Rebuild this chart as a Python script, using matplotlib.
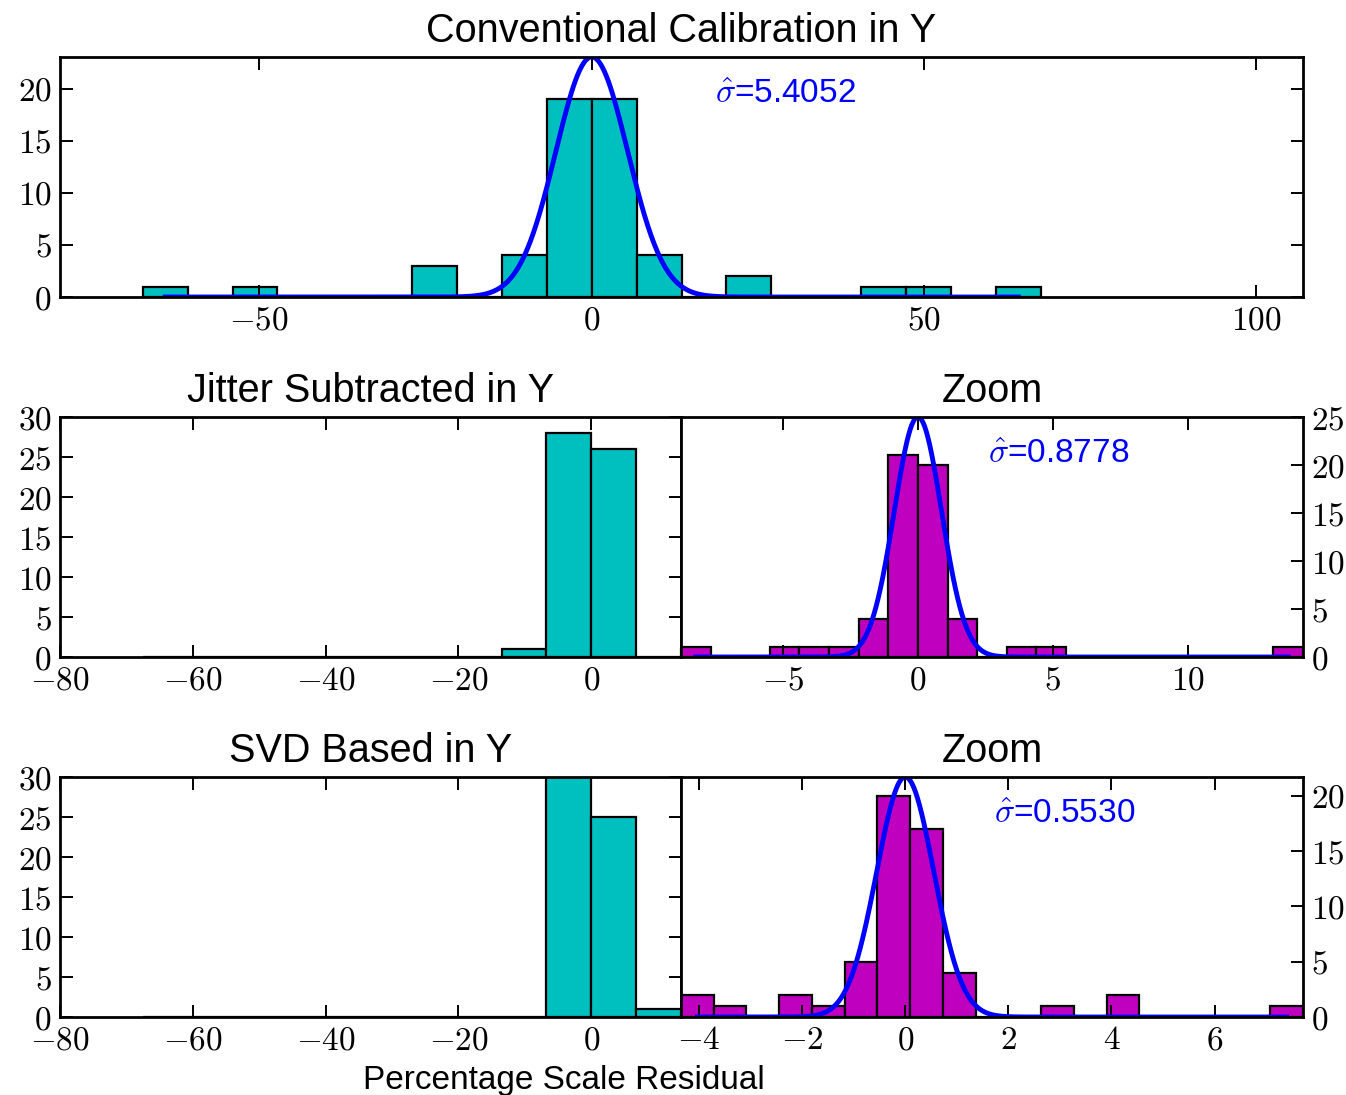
import numpy as np
import matplotlib.pyplot as plt
from matplotlib.ticker import MultipleLocator, FuncFormatter

plt.rcParams['mathtext.fontset'] = 'cm'
plt.rcParams['font.family'] = ['Liberation Sans', 'DejaVu Sans']

# Histogram bins shared by the three wide-range panels
conv_edges = np.linspace(-67.55, 67.55, 21)
conv_counts = [1, 0, 1, 0, 0, 0, 3, 0, 4, 19, 19, 4, 0, 2, 0, 0, 1, 1, 0, 1]
jitter_counts = [0, 0, 0, 0, 0, 0, 0, 0, 1, 28, 26, 0, 1, 0, 0, 0, 0, 0, 0, 0]
svd_counts = [0, 0, 0, 0, 0, 0, 0, 0, 0, 30, 25, 1, 0, 0, 0, 0, 0, 0, 0, 0]

# Zoomed histograms
jitter_zoom_edges = np.linspace(-8.78, 14.27, 22)
jitter_zoom_counts = [1, 0, 0, 1, 1, 1, 4, 21, 20, 4, 0, 1, 1, 0, 0, 0, 0, 0, 0, 0, 1]
svd_zoom_edges = np.linspace(-4.35, 7.715, 20)
svd_zoom_counts = [2, 1, 0, 2, 1, 5, 20, 17, 4, 0, 0, 1, 0, 2, 0, 0, 0, 0, 1]

# Gaussian fits: width and peak height
sigma_conv, amp_conv = 5.4052, 23.06
sigma_jitter, amp_jitter = 0.8778, 25.0
sigma_svd, amp_svd = 0.5530, 21.7

W, H = 1346, 1095
fig = plt.figure(figsize=(W / 100, H / 100), dpi=100)


def add_axes_px(x0, x1, y0, y1):
    return fig.add_axes([x0 / W, 1 - y1 / H, (x1 - x0) / W, (y1 - y0) / H])


def style(ax, xstep, ystep, right=False):
    for sp in ax.spines.values():
        sp.set_linewidth(2.0)
    ax.xaxis.set_major_locator(MultipleLocator(xstep))
    ax.yaxis.set_major_locator(MultipleLocator(ystep))
    fmt = FuncFormatter(lambda v, pos: r'$%g$' % v)
    ax.xaxis.set_major_formatter(fmt)
    ax.yaxis.set_major_formatter(fmt)
    ax.tick_params(direction='in', length=9, width=1.4, labelsize=24,
                   pad=6, top=True, bottom=True)
    if right:
        ax.tick_params(axis='y', left=False, right=True,
                       labelleft=False, labelright=True)
    else:
        ax.tick_params(axis='y', left=True, right=True)


def draw_hist(ax, edges, counts, color):
    ax.bar(edges[:-1], counts, width=np.diff(edges), align='edge',
           color=color, edgecolor='k', linewidth=1.6)


def draw_fit(ax, edges, amp, sigma, fx):
    centers = 0.5 * (edges[1:] + edges[:-1])
    xs = np.linspace(centers[0], centers[-1], 800)
    ax.plot(xs, amp * np.exp(-0.5 * (xs / sigma) ** 2), color='b', lw=3.5)
    ax.text(fx, 0.81, r'$\hat{\sigma}$=%.4f' % sigma, transform=ax.transAxes,
            color='b', fontsize=24, ha='left', va='baseline')


# Conventional calibration
ax = add_axes_px(60, 1303, 57, 297)
draw_hist(ax, conv_edges, conv_counts, 'c')
draw_fit(ax, conv_edges, amp_conv, sigma_conv, 0.527)
ax.set_xlim(-80, 107)
ax.set_ylim(0, amp_conv)
style(ax, 50, 5)
ax.set_title('Conventional Calibration in Y', fontsize=28.5, pad=11)

# Jitter subtracted
ax = add_axes_px(60, 681, 417, 657)
draw_hist(ax, conv_edges, jitter_counts, 'c')
ax.set_xlim(-80, conv_edges[12])
ax.set_ylim(0, 30)
style(ax, 20, 5)
ax.set_title('Jitter Subtracted in Y', fontsize=28.5, pad=11)

ax = add_axes_px(681, 1303, 417, 657)
draw_hist(ax, jitter_zoom_edges, jitter_zoom_counts, 'm')
draw_fit(ax, jitter_zoom_edges, amp_jitter, sigma_jitter, 0.494)
ax.set_xlim(jitter_zoom_edges[0], jitter_zoom_edges[-1])
ax.set_ylim(0, amp_jitter)
style(ax, 5, 5, right=True)
ax.set_title('Zoom', fontsize=28.5, pad=11)

# SVD based
ax = add_axes_px(60, 681, 777, 1017)
draw_hist(ax, conv_edges, svd_counts, 'c')
ax.set_xlim(-80, conv_edges[12])
ax.set_ylim(0, 30)
style(ax, 20, 5)
ax.set_title('SVD Based in Y', fontsize=28.5, pad=11)

ax = add_axes_px(681, 1303, 777, 1017)
draw_hist(ax, svd_zoom_edges, svd_zoom_counts, 'm')
draw_fit(ax, svd_zoom_edges, amp_svd, sigma_svd, 0.504)
ax.set_xlim(svd_zoom_edges[0], svd_zoom_edges[-1])
ax.set_ylim(0, amp_svd)
style(ax, 2, 5, right=True)
ax.set_title('Zoom', fontsize=28.5, pad=11)

fig.text(564 / W, 1 - 1089 / H, 'Percentage Scale Residual', fontsize=24,
         ha='center', va='baseline')

fig.savefig('out.png', dpi=100)
